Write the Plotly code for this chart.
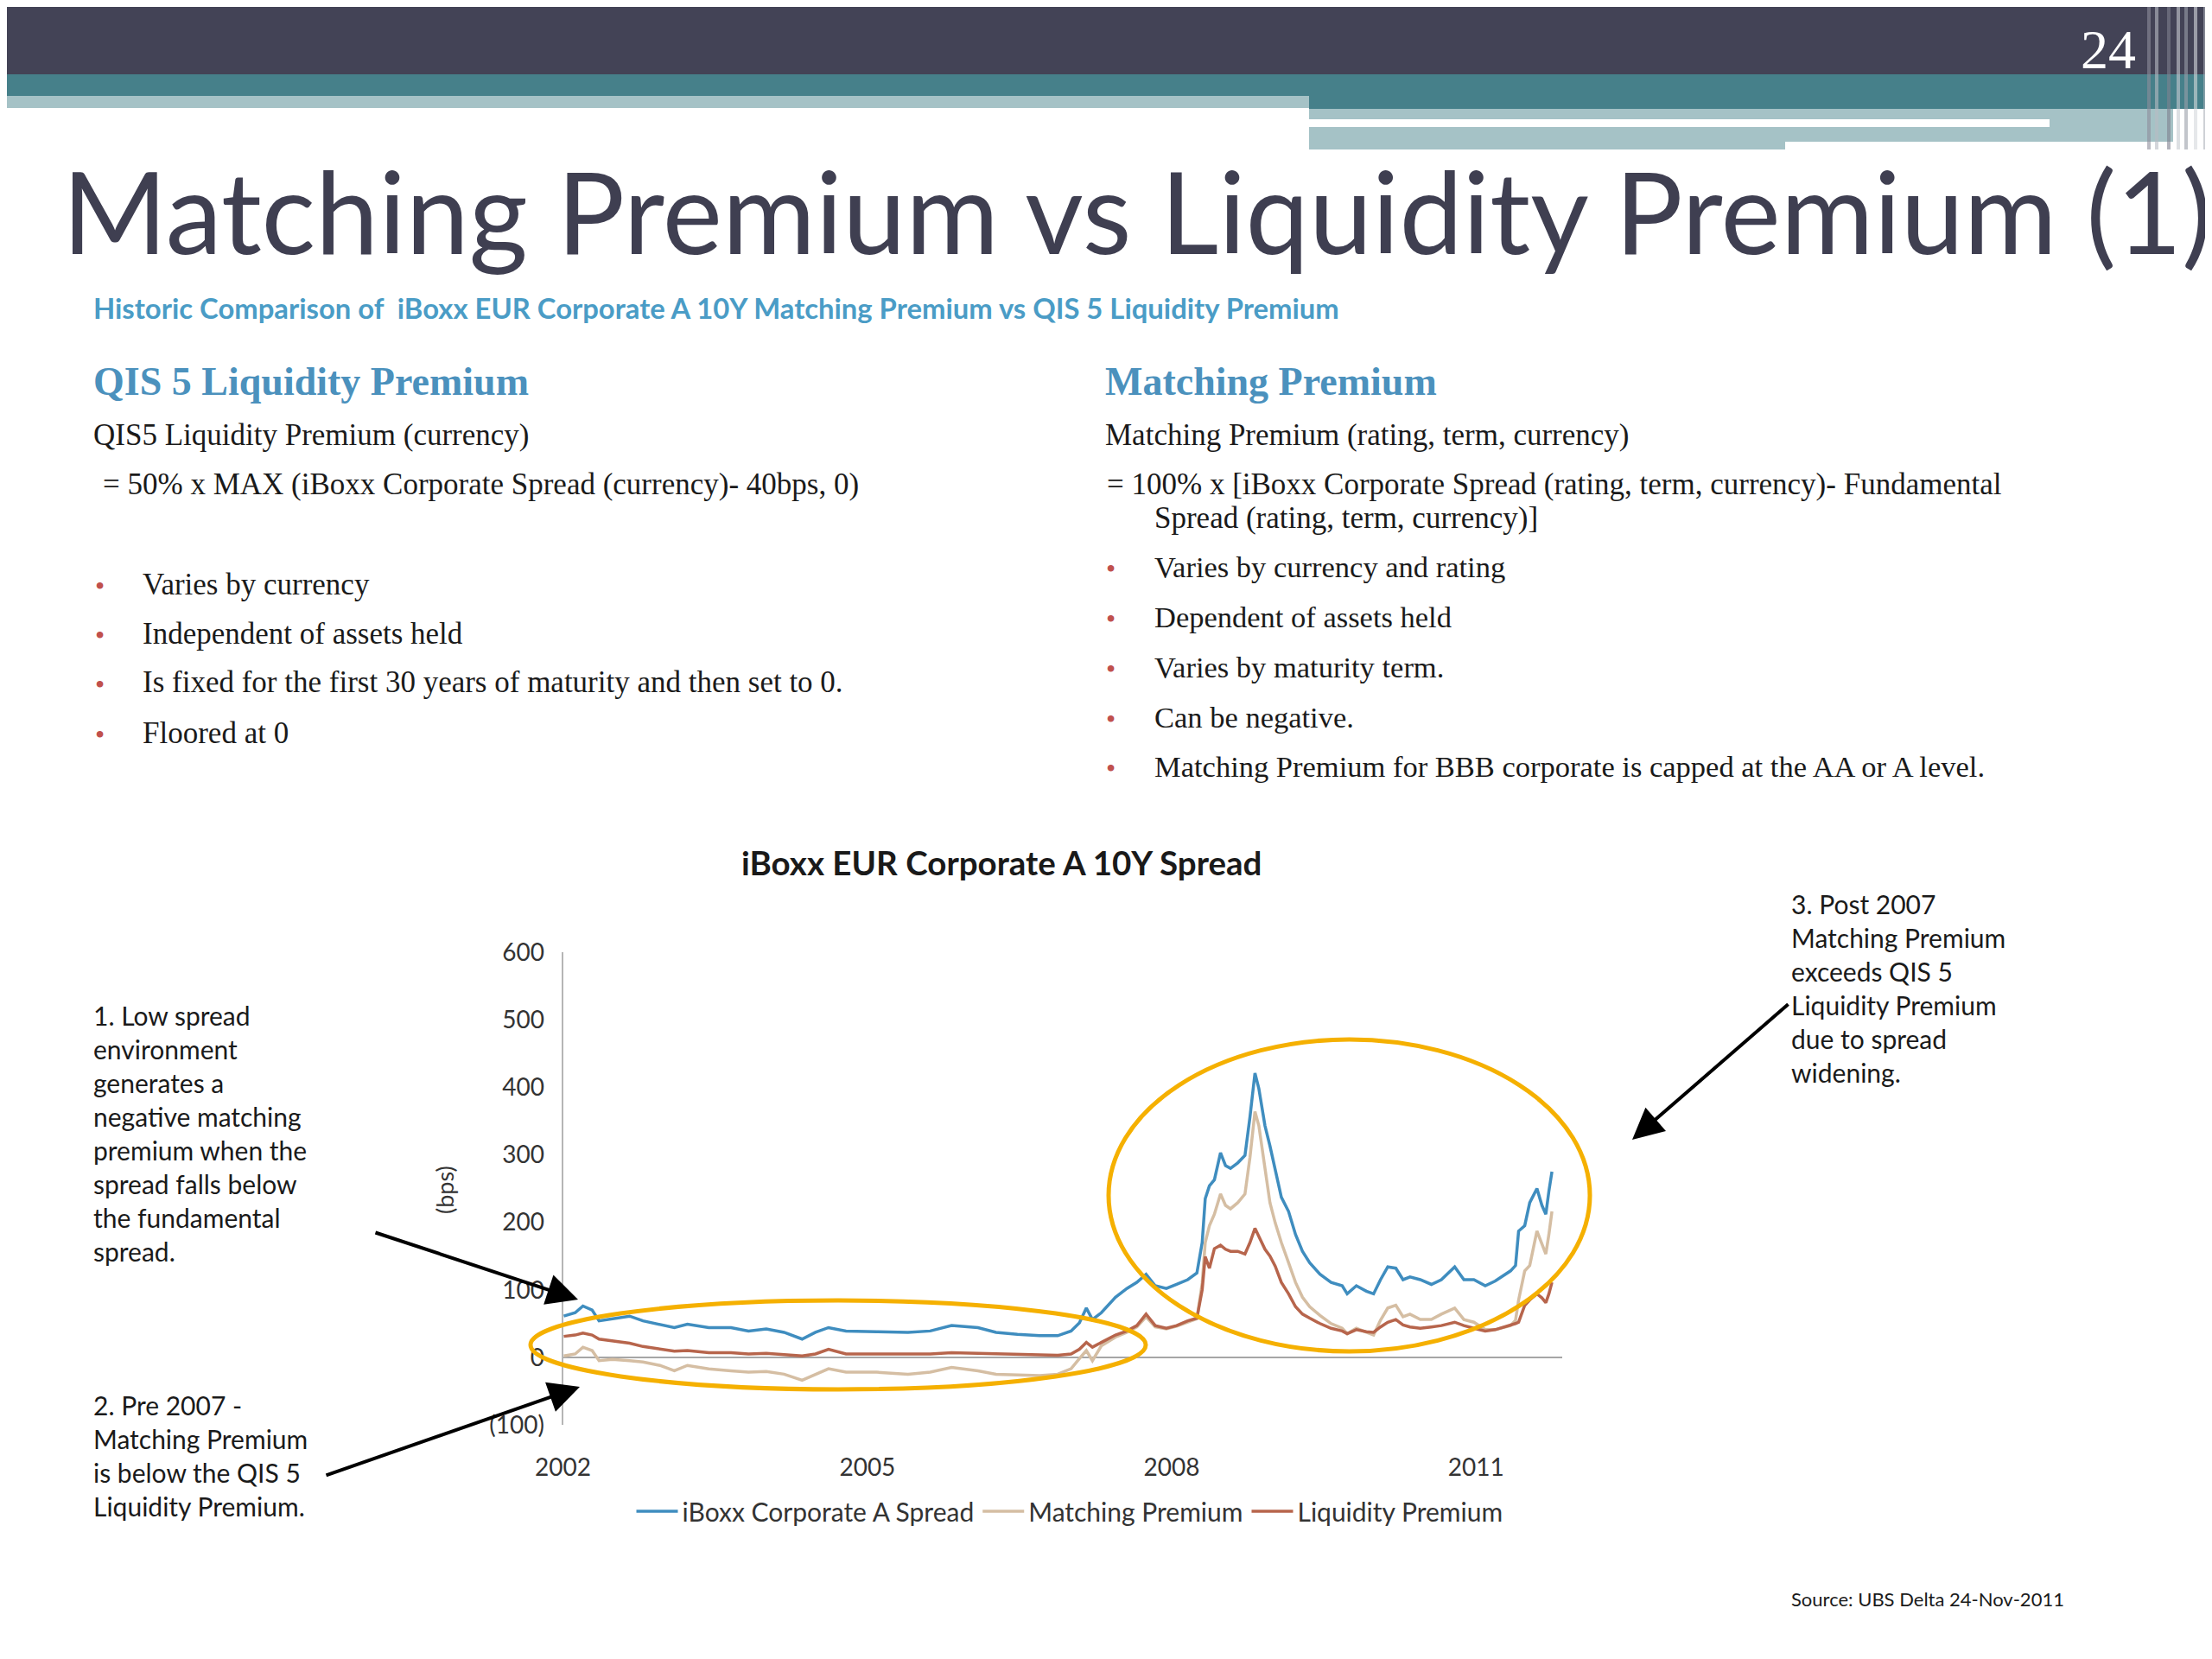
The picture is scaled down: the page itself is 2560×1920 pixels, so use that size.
import plotly.graph_objects as go

W, H = 2560, 1920

# ---------------- data ----------------
dates = [
    "2002-01-04", "2002-02-14", "2002-03-14", "2002-04-16", "2002-05-11", "2002-06-28",
    "2002-08-29", "2002-10-16", "2002-12-16", "2003-02-06", "2003-03-25", "2003-06-10",
    "2003-08-29", "2003-10-31", "2004-01-03", "2004-03-07", "2004-05-11", "2004-06-28",
    "2004-08-14", "2004-10-16", "2005-02-03", "2005-05-27", "2005-08-15", "2005-10-31",
    "2006-02-03", "2006-04-09", "2006-06-25", "2006-09-13", "2006-11-17", "2007-01-04",
    "2007-02-03", "2007-02-28", "2007-03-22", "2007-04-23", "2007-06-13", "2007-07-24",
    "2007-08-29", "2007-10-01", "2007-11-03", "2007-12-13", "2008-01-19", "2008-02-28",
    "2008-04-01", "2008-04-20", "2008-05-01", "2008-05-16", "2008-06-03", "2008-06-25",
    "2008-07-13", "2008-07-31", "2008-08-26", "2008-09-21", "2008-10-09", "2008-10-27",
    "2008-11-10", "2008-12-02", "2008-12-20", "2009-01-08", "2009-01-30", "2009-02-25",
    "2009-03-22", "2009-04-16", "2009-05-12", "2009-06-18", "2009-07-28", "2009-09-06",
    "2009-09-24", "2009-10-27", "2009-12-02", "2009-12-28", "2010-01-22", "2010-02-17",
    "2010-03-18", "2010-04-13", "2010-05-08", "2010-06-14", "2010-07-24", "2010-08-29",
    "2010-10-16", "2010-11-18", "2010-12-24", "2011-02-03", "2011-03-11", "2011-05-05",
    "2011-05-23", "2011-06-03", "2011-06-25", "2011-07-13", "2011-08-08", "2011-08-26",
    "2011-09-09", "2011-09-20", "2011-10-01",
]

iboxx_spread = [
    61, 66, 76, 70, 54, 57, 61, 54, 49, 44, 49, 44,
    44, 39, 42, 37, 27, 37, 44, 39, 38, 37, 39, 47,
    44, 37, 34, 32, 32, 39, 51, 73, 56, 66, 89, 102,
    111, 123, 106, 102, 108, 115, 125, 170, 235, 254,
    263, 303, 284, 280, 288, 299, 356, 421, 398, 343,
    313, 280, 237, 216, 182, 157, 140, 123, 111, 106,
    94, 106, 98, 94, 115, 134, 132, 115, 119, 115,
    108, 115, 134, 115, 115, 106, 113, 128, 136, 187,
    195, 229, 250, 225, 212, 246, 275,
]

matching_premium = [
    2, 5, 15, 10, -5, -3, -5, -7, -12, -20, -12, -17,
    -20, -22, -21, -25, -34, -25, -17, -22, -22, -25, -22, -15,
    -20, -25, -26, -27, -25, -17, -2, 10, -5, 17, 30, 37,
    45, 60, 45, 42, 46, 52, 57, 110, 170, 195,
    212, 242, 225, 220, 229, 242, 296, 364, 343, 280,
    229, 199, 170, 140, 111, 89, 75, 62, 50, 43,
    35, 43, 37, 33, 55, 73, 77, 60, 64, 56,
    56, 64, 73, 56, 52, 41, 41, 47, 55, 85,
    128, 136, 187, 166, 153, 182, 216,
]

liquidity_premium = [
    31, 33, 36, 33, 27, 24, 21, 16, 12, 9, 10, 7,
    7, 5, 6, 4, 2, 5, 12, 5, 5, 5, 5, 7,
    6, 5, 4, 3, 3, 5, 12, 22, 15, 22, 33, 39,
    47, 64, 47, 43, 47, 54, 58, 100, 149, 132,
    161, 166, 160, 157, 157, 153, 170, 191, 178, 160,
    150, 135, 111, 94, 75, 64, 58, 50, 43, 39,
    35, 41, 38, 37, 45, 52, 56, 48, 45, 43,
    45, 47, 52, 47, 43, 39, 41, 47, 50, 52,
    77, 85, 94, 88, 81, 94, 111,
]

series_names = ["iBoxx Corporate A Spread", "Matching Premium", "Liquidity Premium"]
series_colors = ["#3f8dbf", "#d5bea3", "#b7654c"]

y_tick_vals = [-100, 0, 100, 200, 300, 400, 500, 600]
y_tick_text = ["(100)", "0", "100", "200", "300", "400", "500", "600"]
x_tick_vals = ["2002-01-01", "2005-01-01", "2008-01-01", "2011-01-01"]
x_tick_text = ["2002", "2005", "2008", "2011"]

# the page places the figure 8px in from the top-left corner; compensate
OFF = 8


def X(p):
    return (p - OFF) / W


def Y(p):
    return 1 - (p - OFF) / H


fig = go.Figure()
for name, vals, col in zip(series_names, [iboxx_spread, matching_premium, liquidity_premium], series_colors):
    fig.add_trace(go.Scatter(x=dates, y=vals, mode="lines", name=name,
                             line=dict(color=col, width=3.5), hoverinfo="skip"))

SANS = "Lato"
SERIF = "Liberation Serif"

shapes = []


def rect(x0, y0, x1, y1, color):
    shapes.append(dict(type="rect", xref="paper", yref="paper", x0=X(x0), x1=X(x1),
                       y0=Y(y1), y1=Y(y0), fillcolor=color, line=dict(width=0), layer="below"))


# header bars
rect(0, 0, 2570, 86, "#434356")
rect(0, 86, 1515, 111, "#46808a")
rect(1515, 86, 2570, 126, "#46808a")
rect(0, 111, 1515, 125, "#a5c2c6")
rect(1515, 126, 2515, 173, "#a5c2c6")
rect(1515, 138, 2372, 147, "#ffffff")
rect(2066, 164, 2515, 174, "#ffffff")
# right-edge stripes
stripe_x = [2487, 2496, 2510, 2521, 2530, 2541, 2552]
stripe_c = ["#8e8e9c", "#b8bcc4", "#7f8290", "#c8ccd2", "#9aa0aa", "#d6dadd", "#b0b4bc"]
for sx, sc in zip(stripe_x, stripe_c):
    shapes.append(dict(type="line", xref="paper", yref="paper", x0=X(sx), x1=X(sx),
                       y0=Y(173), y1=Y(0), line=dict(color=sc, width=4), opacity=0.6, layer="below"))

# highlight ellipses
ELL = "#f5b000"
shapes.append(dict(type="circle", xref="paper", yref="paper", x0=X(614), x1=X(1326),
                   y0=Y(1608), y1=Y(1505), line=dict(color=ELL, width=5)))
shapes.append(dict(type="circle", xref="paper", yref="paper", x0=X(1283), x1=X(1840),
                   y0=Y(1564), y1=Y(1203), line=dict(color=ELL, width=5)))

anns = []


def text(t, x, y, size, color="#1a1a1a", family=SANS, weight="normal", xanchor="left", yanchor="middle", align="left"):
    anns.append(dict(text=t, x=X(x), y=Y(y), xref="paper", yref="paper", showarrow=False,
                     xanchor=xanchor, yanchor=yanchor, align=align,
                     font=dict(family=family, size=size, color=color, weight=weight)))


text("24", 2440, 58, 64, color="#ffffff", family=SERIF, xanchor="center")
text("Matching Premium vs Liquidity Premium (1)", 70, 243, 131, color="#3f3f51")
text("Historic Comparison of  iBoxx EUR Corporate A 10Y Matching Premium vs QIS 5 Liquidity Premium",
     106, 356, 32.8, color="#4a9cc6", weight="bold")

HEAD = "#4b91bd"
text("QIS 5 Liquidity Premium", 106, 441, 46, color=HEAD, family=SERIF, weight="bold")
text("Matching Premium", 1277, 441, 46, color=HEAD, family=SERIF, weight="bold")

BODY = 35
text("QIS5 Liquidity Premium (currency)", 106, 503, BODY, family=SERIF)
text("= 50% x MAX (iBoxx Corporate Spread (currency)- 40bps, 0)", 117, 560, BODY, family=SERIF)
text("Matching Premium (rating, term, currency)", 1277, 503, BODY, family=SERIF)
text("= 100% x [iBoxx Corporate Spread (rating, term, currency)- Fundamental", 1279, 560, BODY, family=SERIF)
text("Spread (rating, term, currency)]", 1334, 599, BODY, family=SERIF)

left_bullets = ["Varies by currency", "Independent of assets held",
                "Is fixed for the first 30 years of maturity and then set to 0.", "Floored at 0"]
left_by = [676, 733, 790, 848]
right_bullets = ["Varies by currency and rating", "Dependent of assets held", "Varies by maturity term.",
                 "Can be negative.", "Matching Premium for BBB corporate is capped at the AA or A level."]
right_by = [656, 714, 772, 830, 887]
BUL = "#c0504d"
for t, yy in zip(left_bullets, left_by):
    text("•", 108, yy + 2, 32, color=BUL, family=SERIF)
    text(t, 163, yy, BODY, family=SERIF)
for t, yy in zip(right_bullets, right_by):
    text("•", 1278, yy + 2, 32, color=BUL, family=SERIF)
    text(t, 1334, yy, 34.5, family=SERIF)

text("iBoxx EUR Corporate A 10Y Spread", 1159, 998, 38.5, weight="bold", xanchor="center")
text("(bps)", 514, 1377, 27, color="#333333", xanchor="center")
anns[-1]["textangle"] = -90

NOTE = 30
text("1. Low spread<br>environment<br>generates a<br>negative matching<br>premium when the<br>spread falls below"
     "<br>the fundamental<br>spread.", 106, 1155, NOTE, yanchor="top")
text("2. Pre 2007 -<br>Matching Premium<br>is below the QIS 5<br>Liquidity Premium.", 106, 1606, NOTE, yanchor="top")
text("3. Post 2007<br>Matching Premium<br>exceeds QIS 5<br>Liquidity Premium<br>due to spread<br>widening.",
     2071, 1026, NOTE, yanchor="top")
text("Source: UBS Delta 24-Nov-2011", 2071, 1850, 22)


def arrow(tipx, tipy, tailx, taily):
    anns.append(dict(text="", x=X(tipx), y=Y(tipy), xref="paper", yref="paper", showarrow=True,
                     ax=tailx - tipx, ay=taily - tipy, arrowhead=2, arrowsize=1.8, arrowwidth=4,
                     arrowcolor="#000000"))


arrow(669, 1504, 433, 1426)
arrow(671, 1605, 376, 1708)
arrow(1889, 1319, 2071, 1161)

fig.update_layout(
    width=W, height=H, margin=dict(l=0, r=0, t=0, b=0, autoexpand=False),
    paper_bgcolor="#ffffff", plot_bgcolor="rgba(0,0,0,0)",
    shapes=shapes, annotations=anns,
    showlegend=True,
    legend=dict(orientation="h", x=X(1238), xanchor="center", y=Y(1749), yanchor="middle",
                font=dict(family=SANS, size=30, color="#333333"), itemwidth=48,
                bgcolor="rgba(0,0,0,0)"),
    xaxis=dict(domain=[X(651.5), X(1808)], type="date", range=["2002-01-01", "2011-11-07"],
               tickvals=x_tick_vals, ticktext=x_tick_text, showgrid=False, zeroline=False,
               showline=False, ticks="", ticklabelstandoff=30, automargin=False,
               tickfont=dict(family=SANS, size=28, color="#333333")),
    yaxis=dict(domain=[Y(1649), Y(1102)], range=[-100, 600], tickvals=y_tick_vals, ticktext=y_tick_text,
               showgrid=False, zeroline=True, zerolinecolor="#a6a6a6", zerolinewidth=2,
               showline=True, linecolor="#b5b5b5", linewidth=2, ticks="", ticklabelstandoff=14,
               automargin=False, tickfont=dict(family=SANS, size=28, color="#333333")),
)

fig.write_html("out.html")
